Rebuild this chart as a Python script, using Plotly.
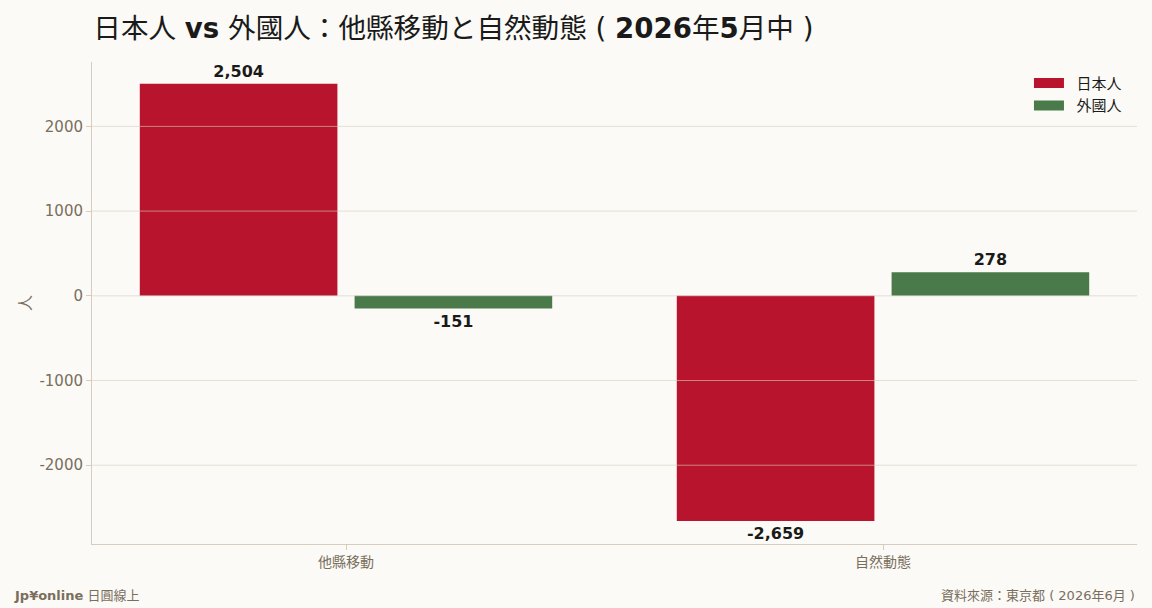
import plotly.graph_objects as go

# 東京都 人口動態 2026年5月中
categories = ["他縣移動", "自然動態"]
japanese = [2504, -2659]
foreign = [-151, 278]
series_names = ["日本人", "外國人"]
ytick_vals = [-2000, -1000, 0, 1000, 2000]
ytick_text = ["-2000", "-1000", "0", "1000", "2000"]

RED = "#B8142D"
GREEN = "#4A7A4A"
BG = "#FBFAF6"
BROWN = "#7A6E5D"
AXIS = "#D6CDBE"
GRID = "rgba(215,205,190,0.6)"
FONT = "DejaVu Sans, Noto Sans CJK JP"

fig = go.Figure()
for name, vals, col in [(series_names[0], japanese, RED), (series_names[1], foreign, GREEN)]:
    fig.add_trace(go.Bar(
        x=categories, y=vals, name=name, showlegend=False,
        marker=dict(color=col, line=dict(width=0)),
        text=vals, texttemplate="%{y:,}",
        textposition="outside", cliponaxis=False,
        textfont=dict(family=FONT, size=16, color="#1A1A1A", weight="bold"),
    ))
    # legend entry drawn as a wide bar swatch
    fig.add_trace(go.Scatter(
        x=[None], y=[None], name="\u2002" + name, mode="lines",
        line=dict(color=col, width=10),
    ))

# grid lines drawn on top of the bars, as in the source
for v in ytick_vals:
    fig.add_shape(type="line", xref="paper", x0=0, x1=1, yref="y", y0=v, y1=v,
                  line=dict(color=GRID, width=1), layer="above")

fig.update_layout(
    width=1152, height=608,
    paper_bgcolor=BG, plot_bgcolor=BG,
    margin=dict(l=92, r=15, t=62, b=64),
    barmode="group", bargap=0.2, bargroupgap=0.08,
    title=dict(
        text="日本人 <b>vs</b> 外國人：他縣移動と自然動態 ( <b>2026</b>年<b>5</b>月中 )",
        x=0.081, xanchor="left", y=0.953, yanchor="middle",
        font=dict(family=FONT, size=27.6, color="#1A1A1A"),
    ),
    font=dict(family=FONT, color=BROWN),
    legend=dict(
        x=0.9904, y=0.99, xanchor="right", yanchor="top",
        bgcolor="rgba(0,0,0,0)", itemwidth=30,
        font=dict(family=FONT, size=15, color="#1A1A1A"),
    ),
    xaxis=dict(
        range=[-0.473, 1.473],
        showline=True, linecolor=AXIS, linewidth=1,
        ticks="outside", ticklen=5, tickcolor=AXIS,
        tickfont=dict(family=FONT, size=14, color=BROWN),
        showgrid=False,
    ),
    yaxis=dict(
        range=[-2930, 2760],
        title=dict(text="人", font=dict(family=FONT, size=16, color=BROWN), standoff=3),
        showline=True, linecolor=AXIS, linewidth=1,
        ticks="outside", ticklen=5, tickcolor=AXIS,
        tickfont=dict(family=FONT, size=15, color=BROWN),
        tickvals=ytick_vals, ticktext=ytick_text,
        showgrid=False, zeroline=False,
    ),
)

# footer, placed in pixel terms relative to the plot area
plot_w = 1152 - 92 - 15
plot_h = 608 - 62 - 64
fig.add_annotation(text="<b>Jp¥online</b> 日圓線上", x=(12 - 92) / plot_w, y=(544 - 595) / plot_h,
                   xref="paper", yref="paper", xanchor="left", yanchor="middle", showarrow=False,
                   font=dict(family=FONT, size=13, color=BROWN))
fig.add_annotation(text="資料來源：東京都 ( 2026年6月 )", x=(1137 - 92) / plot_w, y=(544 - 595) / plot_h,
                   xref="paper", yref="paper", xanchor="right", yanchor="middle", showarrow=False,
                   font=dict(family=FONT, size=13, color=BROWN))

fig.write_html("out.html", config={"displayModeBar": False},
               post_script="document.body.style.margin='0';document.body.style.background='%s';" % BG)
